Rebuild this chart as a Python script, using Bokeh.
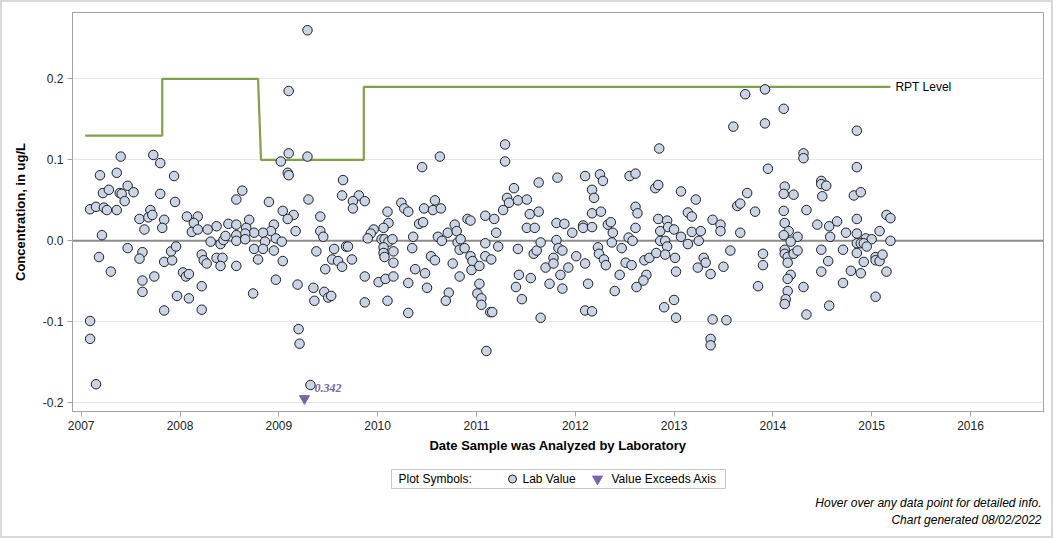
from bokeh.plotting import figure
from bokeh.layouts import column
from bokeh.models import Range1d, FixedTicker, NumeralTickFormatter, Span
from bokeh.embed import file_html
from bokeh.resources import INLINE
from bokeh.core.properties import value

# Analysis date (decimal year) and lab concentration (ug/L)
analysis_year = [
    2007.40, 2007.73, 2007.80, 2007.19, 2007.36, 2007.94, 2007.47, 2007.22, 2007.28, 2007.39,
    2007.41, 2007.53, 2007.44, 2007.80, 2007.95, 2007.09, 2007.15, 2007.23, 2007.26, 2007.36,
    2007.59, 2007.70, 2007.68, 2007.72, 2007.84, 2007.82, 2007.64, 2008.07, 2008.18, 2008.14,
    2008.12, 2008.18, 2008.28, 2008.37, 2007.21, 2008.31, 2008.41, 2008.44, 2008.46, 2008.49,
    2007.47, 2007.18, 2007.30, 2007.62, 2007.59, 2007.62, 2007.62, 2007.74, 2007.84, 2007.92,
    2007.91, 2007.96, 2008.03, 2008.06, 2008.09, 2007.97, 2008.09, 2007.84, 2008.22, 2008.22,
    2008.22, 2008.24, 2008.27, 2008.37, 2008.43, 2008.41, 2007.09, 2007.09, 2007.15,
    # 2008.5 - 2010.2
    2009.29, 2009.10, 2009.10, 2009.29, 2009.02, 2009.09, 2009.10, 2008.63, 2008.57, 2008.90,
    2009.30, 2009.65, 2009.64, 2009.81, 2009.75, 2009.75, 2009.87, 2009.04, 2009.15, 2009.09,
    2009.42, 2008.70, 2008.57, 2008.67, 2008.95, 2008.92, 2008.84, 2008.75, 2008.66, 2008.57,
    2008.57, 2008.66, 2008.97, 2009.17, 2009.42, 2009.45, 2009.03, 2008.86, 2010.10, 2010.11,
    2010.06, 2009.96, 2009.93, 2009.90, 2010.04, 2010.07, 2010.11, 2010.15, 2008.75, 2008.84,
    2008.95, 2008.79, 2009.04, 2008.57, 2009.38, 2009.56, 2009.68, 2009.70, 2009.54, 2009.60,
    2009.64, 2009.47, 2009.74, 2010.06, 2010.06, 2010.07, 2010.16, 2010.16, 2008.97, 2009.19,
    2009.35, 2009.46, 2009.50, 2009.53, 2009.36, 2008.74, 2009.87, 2010.01, 2010.08, 2009.87,
    2010.10, 2010.16, 2009.20, 2009.21, 2009.32,
    # 2010.2 - 2011.8
    2011.29, 2011.29, 2010.63, 2010.45, 2011.63, 2011.38, 2011.31, 2011.33, 2011.42, 2011.51,
    2011.27, 2011.54, 2011.63, 2011.51, 2011.59, 2010.24, 2010.27, 2010.31, 2010.47, 2010.56,
    2010.58, 2010.64, 2010.42, 2010.46, 2010.36, 2010.35, 2010.91, 2010.94, 2010.78, 2010.71,
    2010.80, 2010.61, 2010.65, 2010.81, 2010.84, 2010.83, 2010.88, 2011.09, 2011.18, 2011.20,
    2011.09, 2011.22, 2011.09, 2011.15, 2011.42, 2011.58, 2011.61, 2011.65, 2011.70, 2010.54,
    2010.58, 2010.38, 2010.48, 2010.50, 2010.31, 2010.31, 2010.76, 2010.83, 2010.94, 2010.96,
    2010.95, 2011.03, 2010.72, 2010.69, 2011.03, 2011.01, 2011.05, 2011.05, 2011.14, 2011.16,
    2011.10, 2011.43, 2011.40, 2011.46, 2011.55, 2011.65, 2011.74,
    # 2011.8 - 2013.3
    2012.85, 2011.82, 2012.10, 2012.25, 2012.28, 2012.55, 2012.61, 2012.81, 2012.84, 2013.07,
    2013.22, 2012.17, 2012.19, 2012.17, 2012.26, 2012.61, 2012.63, 2013.14, 2013.18, 2011.81,
    2011.89, 2011.97, 2012.08, 2012.08, 2012.17, 2012.33, 2012.36, 2012.38, 2012.61, 2012.84,
    2012.93, 2012.86, 2012.94, 2013.00, 2013.07, 2013.18, 2013.27, 2013.14, 2013.25, 2011.81,
    2012.37, 2012.47, 2012.54, 2012.58, 2012.86, 2012.91, 2012.93, 2011.83, 2011.87, 2011.78,
    2011.78, 2012.01, 2012.10, 2011.93, 2011.85, 2011.87, 2012.23, 2012.24, 2012.29, 2012.31,
    2012.51, 2012.57, 2012.70, 2012.75, 2012.82, 2012.91, 2013.01, 2013.02, 2013.24, 2013.30,
    2013.32, 2012.45, 2012.72, 2012.69, 2012.62, 2012.13, 2012.40, 2012.10, 2012.17, 2012.90,
    2013.00, 2013.02,
    # 2013.3 - 2015.2
    2013.92, 2013.72, 2014.11, 2013.60, 2013.92, 2014.85, 2014.31, 2014.31, 2013.95, 2014.85,
    2014.49, 2014.49, 2014.54, 2014.50, 2014.12, 2014.11, 2014.21, 2013.74, 2013.64, 2013.67,
    2013.82, 2014.82, 2014.89, 2014.11, 2014.34, 2013.39, 2013.47, 2013.47, 2013.67, 2014.12,
    2014.16, 2014.11, 2014.25, 2014.18, 2014.45, 2014.57, 2014.65, 2014.58, 2014.74, 2014.85,
    2014.85, 2014.94, 2015.00, 2015.08, 2015.15, 2015.19, 2015.19, 2014.85, 2014.89, 2014.92,
    2014.95, 2014.85, 2014.71, 2014.49, 2014.56, 2014.92, 2015.04, 2015.04, 2015.08, 2015.11,
    2015.15, 2014.79, 2014.89, 2014.71, 2014.49, 2014.57, 2015.04, 2013.57, 2013.90, 2013.90,
    2014.12, 2014.12, 2014.15, 2014.15, 2014.21, 2014.25, 2014.18, 2014.15, 2014.15, 2014.13,
    2014.12, 2014.31, 2014.34, 2013.85, 2013.50, 2013.37, 2013.39, 2013.53, 2013.37, 2013.37,
]

concentration = [
    0.104, 0.106, 0.096, 0.081, 0.084, 0.080, 0.068, 0.059, 0.063, 0.059,
    0.058, 0.060, 0.049, 0.058, 0.048, 0.039, 0.042, 0.041, 0.038, 0.038,
    0.027, 0.038, 0.029, 0.032, 0.026, 0.016, 0.014, 0.030, 0.030, 0.022,
    0.011, 0.014, 0.014, 0.018, 0.007, -0.001, -0.004, 0.001, 0.006, 0.021,
    -0.009, -0.020, -0.038, -0.014, -0.022, -0.049, -0.063, -0.044, -0.026, -0.024,
    -0.013, -0.007, -0.039, -0.044, -0.041, -0.068, -0.071, -0.086, -0.056, -0.085,
    -0.017, -0.024, -0.028, -0.021, -0.021, -0.031, -0.099, -0.121, -0.177,
    # 2008.5 - 2010.2
    0.260, 0.185, 0.108, 0.104, 0.098, 0.084, 0.081, 0.062, 0.051, 0.048,
    0.051, 0.075, 0.056, 0.056, 0.049, 0.040, 0.049, 0.037, 0.032, 0.027,
    0.030, 0.026, 0.020, 0.016, 0.020, 0.012, 0.010, 0.010, 0.009, 0.007,
    0.000, 0.002, 0.003, 0.012, 0.012, 0.005, -0.001, -0.001, 0.036, 0.022,
    0.016, 0.014, 0.009, 0.003, 0.002, 0.002, -0.001, 0.002, -0.010, -0.010,
    -0.012, -0.023, -0.025, -0.031, -0.013, -0.010, -0.007, -0.007, -0.023, -0.025,
    -0.032, -0.035, -0.023, -0.008, -0.015, -0.020, -0.013, -0.027, -0.048, -0.054,
    -0.058, -0.063, -0.070, -0.068, -0.074, -0.065, -0.044, -0.051, -0.047, -0.076,
    -0.074, -0.044, -0.109, -0.127, -0.178,
    # 2010.2 - 2011.8
    0.119, 0.098, 0.104, 0.091, 0.072, 0.065, 0.053, 0.047, 0.050, 0.051,
    0.038, 0.033, 0.036, 0.016, 0.016, 0.047, 0.040, 0.036, 0.040, 0.038,
    0.050, 0.040, 0.021, 0.023, 0.005, -0.009, 0.027, 0.025, 0.020, 0.010,
    0.012, 0.005, 0.000, -0.002, 0.002, -0.011, -0.009, 0.031, 0.027, 0.010,
    -0.003, -0.007, -0.019, -0.023, -0.010, -0.016, -0.012, -0.002, -0.033, -0.019,
    -0.024, -0.035, -0.040, -0.058, -0.052, -0.089, -0.028, -0.044, -0.019, -0.025,
    -0.036, -0.031, -0.064, -0.074, -0.053, -0.065, -0.071, -0.079, -0.088, -0.088,
    -0.136, -0.042, -0.057, -0.072, -0.046, -0.095, -0.053,
    # 2011.8 - 2013.3
    0.114, 0.078, 0.080, 0.082, 0.074, 0.080, 0.083, 0.065, 0.069, 0.061,
    0.051, 0.063, 0.053, 0.034, 0.036, 0.042, 0.034, 0.035, 0.030, 0.022,
    0.021, 0.010, 0.019, 0.016, 0.017, 0.020, 0.023, 0.010, 0.016, 0.027,
    0.025, 0.012, 0.017, 0.014, 0.005, 0.011, 0.012, -0.004, 0.000, 0.001,
    -0.002, -0.009, 0.004, 0.000, 0.000, 0.000, -0.007, -0.009, -0.012, -0.021,
    -0.028, -0.019, -0.028, -0.033, -0.042, -0.059, -0.008, -0.016, -0.023, -0.030,
    -0.027, -0.030, -0.024, -0.021, -0.015, -0.017, -0.021, -0.038, -0.033, -0.021,
    -0.027, -0.042, -0.042, -0.049, -0.057, -0.053, -0.062, -0.086, -0.087, -0.082,
    -0.073, -0.095,
    # 2013.3 - 2015.2
    0.187, 0.181, 0.163, 0.141, 0.145, 0.136, 0.108, 0.102, 0.089, 0.091,
    0.074, 0.070, 0.068, 0.055, 0.067, 0.058, 0.057, 0.059, 0.043, 0.046,
    0.036, 0.056, 0.060, 0.037, 0.038, 0.026, 0.020, 0.012, 0.010, 0.022,
    0.012, 0.007, 0.005, -0.001, 0.020, 0.018, 0.024, 0.005, 0.010, 0.027,
    0.009, 0.003, 0.002, 0.012, 0.032, 0.028, 0.000, -0.003, -0.003, -0.003,
    -0.007, -0.015, -0.011, -0.011, -0.025, -0.026, -0.020, -0.024, -0.025, -0.017,
    -0.038, -0.037, -0.040, -0.052, -0.038, -0.080, -0.069, -0.012, -0.016, -0.030,
    -0.011, -0.016, -0.020, -0.027, -0.016, -0.012, -0.042, -0.047, -0.062, -0.072,
    -0.078, -0.057, -0.091, -0.056, -0.032, -0.041, -0.097, -0.098, -0.121, -0.129,
]

# Result above the top of the plotted range, flagged at the bottom of the axis
exceed_year = [2009.26]
exceed_value = [0.342]

# Reporting level over time (step line)
rpt_year = [2007.04, 2007.82, 2007.82, 2008.79, 2008.82, 2009.86, 2009.86, 2015.19]
rpt_level = [0.13, 0.13, 0.20, 0.20, 0.10, 0.10, 0.19, 0.19]

year_ticks = list(range(2007, 2017))
conc_ticks = [-0.2, -0.1, 0.0, 0.1, 0.2]
year_range = (2006.912, 2016.739)
conc_range = (-0.2107, 0.2819)

legend_title = "Plot Symbols:"
legend_labels = ["Lab Value", "Value Exceeds Axis"]
footer_lines = ["Hover over any data point for detailed info.",
                "Chart generated 08/02/2022"]

FONT = "Liberation Sans"
POINT_FILL = "#c9d4e6"
POINT_LINE = "#1f1f1f"
EXCEED = "#7b63a8"
RPT_GREEN = "#80a14c"
FRAME_GREY = "#a3a3a3"
WIDTH = 1049
FRAME_LEFT, FRAME_RIGHT = 72, 1043   # page pixels of the plot frame edges

# ---------------- main chart ----------------
p = figure(width=WIDTH, height=456, output_backend="svg", toolbar_location=None,
           x_range=Range1d(*year_range), y_range=Range1d(*conc_range),
           min_border_left=FRAME_LEFT - 2, min_border_right=WIDTH + 2 - FRAME_RIGHT,
           min_border_top=10, min_border_bottom=47,
           background_fill_color="white", border_fill_color="white")
p.outline_line_color = FRAME_GREY
p.outline_line_width = 1

p.xgrid.visible = False
p.ygrid.ticker = FixedTicker(ticks=conc_ticks)
p.ygrid.grid_line_color = "#e6e6e6"
p.ygrid.grid_line_width = 1

p.xaxis.ticker = FixedTicker(ticks=year_ticks)
p.xaxis.formatter = NumeralTickFormatter(format="0")
p.yaxis.ticker = FixedTicker(ticks=conc_ticks)
p.yaxis.formatter = NumeralTickFormatter(format="0.0")

for ax in (p.xaxis[0], p.yaxis[0]):
    ax.axis_line_color = FRAME_GREY
    ax.major_tick_line_color = FRAME_GREY
    ax.major_tick_out = 5
    ax.major_tick_in = 0
    ax.minor_tick_line_color = None
    ax.major_label_text_font = FONT
    ax.major_label_text_font_size = "12px"
    ax.major_label_text_color = "#222222"
    ax.major_label_standoff = 4
    ax.axis_label_text_font = FONT
    ax.axis_label_text_font_size = "13px"
    ax.axis_label_text_font_style = "bold"
    ax.axis_label_text_color = "#000000"

p.xaxis.axis_label = "Date Sample was Analyzed by Laboratory"
p.xaxis.axis_label_standoff = 5
p.yaxis.axis_label = "Concentration, in ug/L"
p.yaxis.axis_label_standoff = 12

# zero reference line under the data
p.add_layout(Span(location=0, dimension="width", line_color="#8c8c8c",
                  line_width=2, level="underlay"))

# reporting level step line and its label
p.line(rpt_year, rpt_level, line_color=RPT_GREEN, line_width=2.2)
p.text(x=[rpt_year[-1]], y=[rpt_level[-1]], text=["RPT Level"], x_offset=5,
       text_baseline="middle", text_align="left", text_font=value(FONT),
       text_font_size="12px", text_color="#000000")

# lab values
p.scatter(analysis_year, concentration, marker="circle", size=9.5,
          fill_color=POINT_FILL, line_color=POINT_LINE, line_width=1)

# values beyond the axis: marker pinned near the bottom, labelled with the value
floor_y = conc_range[0] + 0.016
p.scatter(exceed_year, [floor_y] * len(exceed_year), marker="inverted_triangle",
          size=10, fill_color=EXCEED, line_color=EXCEED)
p.text(x=exceed_year, y=[floor_y] * len(exceed_year),
       text=[f"{v:.3f}" for v in exceed_value], x_offset=10, y_offset=-11,
       text_baseline="middle", text_align="left",
       text_font=value("Liberation Serif"), text_font_style="bold italic",
       text_font_size="12px", text_color=EXCEED)

# ---------------- symbol key and footer notes ----------------
# the column aligns this panel's frame with the chart frame above, so its
# x range is expressed in page pixels across that frame; y runs downward
f = figure(width=WIDTH, height=78, output_backend="svg", toolbar_location=None,
           x_range=Range1d(FRAME_LEFT, FRAME_RIGHT), y_range=Range1d(78, 0),
           min_border=0, min_border_left=FRAME_LEFT - 2,
           min_border_right=WIDTH + 2 - FRAME_RIGHT, outline_line_color=None,
           background_fill_color="white", border_fill_color="white")
f.axis.visible = False
f.grid.visible = False

key_y = 20.5
f.rect(x=[558], y=[key_y], width=334, height=19, fill_color="white",
       line_color="#c8c8c8", line_width=1)
f.text(x=[398, 522, 611], y=[key_y] * 3, text=[legend_title] + legend_labels,
       text_baseline="middle", text_align="left", text_font=value(FONT),
       text_font_size="12px", text_color="#000000")
f.scatter(x=[512], y=[key_y], marker="circle", size=8, fill_color=POINT_FILL,
          line_color=POINT_LINE, line_width=1)
f.scatter(x=[597], y=[key_y], marker="inverted_triangle", size=10,
          fill_color=EXCEED, line_color=EXCEED)
f.text(x=[1041, 1041], y=[44, 61], text=footer_lines, text_baseline="middle",
       text_align="right", text_font=value(FONT), text_font_size="12px",
       text_font_style="italic", text_color="#000000")

layout = column(p, f, spacing=0, styles={"border": "2px solid #d9d9d9"})

open("out.html", "w").write(file_html(layout, INLINE))
